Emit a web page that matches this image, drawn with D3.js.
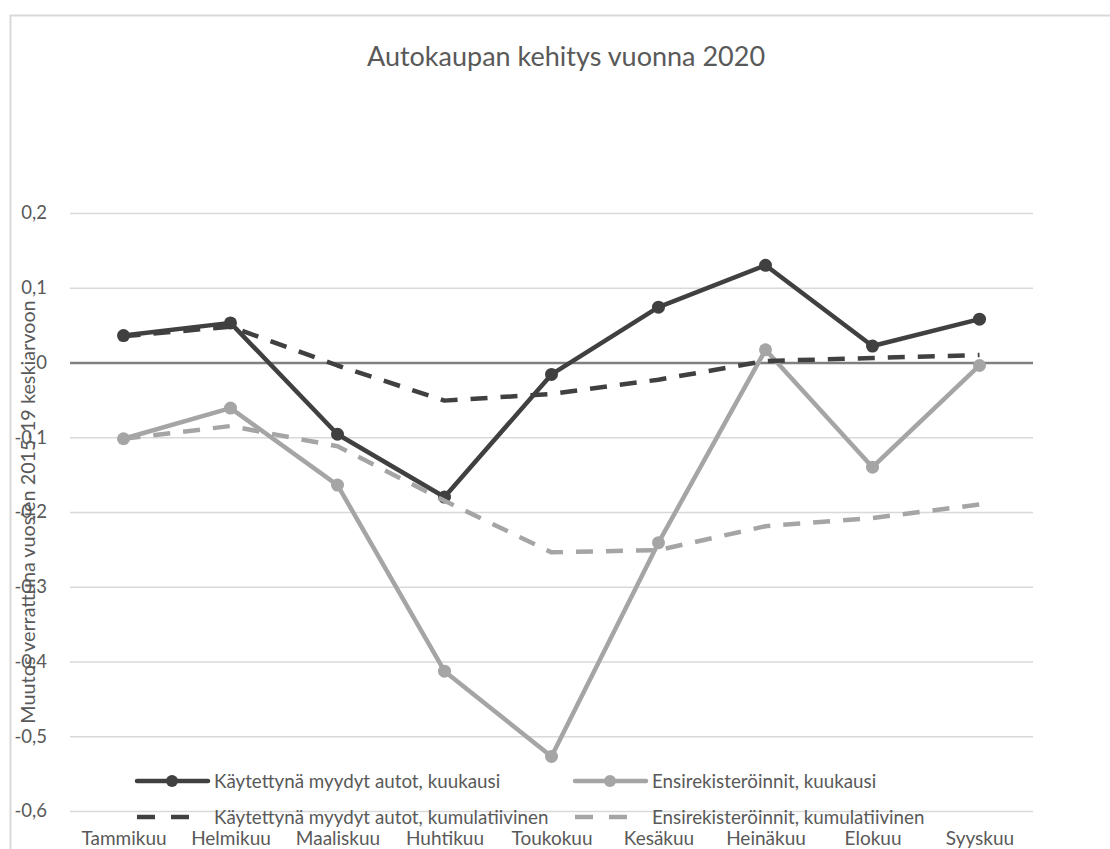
<!DOCTYPE html>
<html>
<head>
<meta charset="utf-8">
<script src="https://cdn.jsdelivr.net/npm/d3@7"></script>
<style>
	body { margin: 0; background: #fff; }
	svg { display: block; }
	text { font-family: Lato, "Open Sans", sans-serif; fill: #595959; }
</style>
</head>
<body>
<div id="vis-proper"></div>
<script>
// months on the x axis
const months = ["Tammikuu", "Helmikuu", "Maaliskuu", "Huhtikuu", "Toukokuu", "Kesäkuu", "Heinäkuu", "Elokuu", "Syyskuu"];

// change vs 2015-19 average
const usedMonthly = [0.036, 0.053, -0.096, -0.180, -0.016, 0.074, 0.130, 0.022, 0.058];
const firstRegMonthly = [-0.102, -0.061, -0.164, -0.413, -0.527, -0.241, 0.017, -0.140, -0.004];
const usedCumulative = [0.035, 0.048, -0.004, -0.051, -0.042, -0.023, 0.002, 0.006, 0.010];
const firstRegCumulative = [-0.102, -0.085, -0.112, -0.185, -0.254, -0.251, -0.219, -0.208, -0.190];

const yTicks = [0.2, 0.1, 0, -0.1, -0.2, -0.3, -0.4, -0.5, -0.6];

const seriesNames = [
	"Käytettynä myydyt autot, kuukausi",
	"Ensirekisteröinnit, kuukausi",
	"Käytettynä myydyt autot, kumulatiivinen",
	"Ensirekisteröinnit, kumulatiivinen"
];

const title = "Autokaupan kehitys vuonna 2020";
const yLabel = "Muutos verrattuna vuosien 2015-19 keskiarvoon";

const DARK = "#404040";
const LIGHT = "#a5a5a5";

const series = [
	{ name: seriesNames[0], values: usedMonthly, color: DARK, dash: null, marker: true },
	{ name: seriesNames[1], values: firstRegMonthly, color: LIGHT, dash: null, marker: true },
	{ name: seriesNames[2], values: usedCumulative, color: DARK, dash: "17,13", marker: false },
	{ name: seriesNames[3], values: firstRegCumulative, color: LIGHT, dash: "17,13", marker: false }
];

const W = 1110, H = 849;
const plot = { left: 70, right: 1033, top: 213, bottom: 811 };

const svg = d3.select("#vis-proper").append("svg")
	.attr("width", W)
	.attr("height", H);

// chart frame (runs off the right/bottom edge like the screenshot)
svg.append("rect")
	.attr("x", 10.5).attr("y", 15.5)
	.attr("width", W + 20).attr("height", H + 20)
	.attr("fill", "#fff")
	.attr("stroke", "#d9d9d9")
	.attr("stroke-width", 2);

const x = d3.scalePoint().domain(months).range([plot.left, plot.right]).padding(0.5);
const y = d3.scaleLinear().domain([-0.6, 0.2]).range([plot.bottom, plot.top]);

const fiLocale = d3.formatLocale({ decimal: ",", thousands: " ", grouping: [3], currency: ["", " €"], minus: "-" });
const fmt = fiLocale.format(".1~f");

// gridlines
const grid = svg.append("g")
	.attr("transform", `translate(${plot.left},0)`)
	.call(d3.axisLeft(y).tickValues(yTicks).tickSize(-(plot.right - plot.left)).tickFormat(""));
grid.select(".domain").remove();
grid.selectAll("line")
	.attr("stroke", d => d === 0 ? "#808080" : "#d9d9d9")
	.attr("stroke-width", d => d === 0 ? 2.6 : 1.6);

// y tick labels
const yAxis = svg.append("g")
	.attr("transform", `translate(${plot.left - 20},0)`)
	.call(d3.axisLeft(y).tickValues(yTicks).tickSize(0).tickFormat(fmt));
yAxis.select(".domain").remove();
yAxis.selectAll("text")
	.attr("fill", "#595959")
	.style("font-family", "Lato, sans-serif")
	.style("font-size", "18.5px");

// x labels
const xAxis = svg.append("g")
	.attr("transform", `translate(0,${plot.bottom})`)
	.call(d3.axisBottom(x).tickSize(0).tickPadding(0));
xAxis.select(".domain").remove();
xAxis.selectAll("text")
	.attr("y", 34)
	.attr("dy", null)
	.attr("fill", "#595959")
	.style("font-family", "Lato, sans-serif")
	.style("font-size", "19px");

// y axis title
svg.append("text")
	.attr("transform", `translate(35,${(plot.top + plot.bottom) / 2}) rotate(-90)`)
	.attr("text-anchor", "middle")
	.style("font-size", "19.8px")
	.text(yLabel);

// title
svg.append("text")
	.attr("x", 566).attr("y", 66)
	.attr("text-anchor", "middle")
	.style("font-size", "27px")
	.text(title);

const line = d3.line()
	.x((d, i) => x(months[i]))
	.y(d => y(d));

const seriesG = svg.append("g");
series.forEach(s => {
	seriesG.append("path")
		.datum(s.values)
		.attr("d", line)
		.attr("fill", "none")
		.attr("stroke", s.color)
		.attr("stroke-width", 4.5)
		.attr("stroke-linejoin", "round")
		.attr("stroke-dasharray", s.dash);
	if (s.marker) {
		seriesG.selectAll(null)
			.data(s.values)
			.enter()
			.append("circle")
			.attr("cx", (d, i) => x(months[i]))
			.attr("cy", d => y(d))
			.attr("r", 6.5)
			.attr("fill", s.color);
	}
});

// legend
const legendPos = [
	{ x: 137, y: 781 }, { x: 575, y: 781 },
	{ x: 137, y: 817 }, { x: 575, y: 817 }
];
const legend = svg.append("g");
series.forEach((s, i) => {
	const p = legendPos[i];
	const g = legend.append("g").attr("transform", `translate(${p.x},${p.y})`);
	if (s.dash) {
		g.append("line").attr("x1", 0).attr("x2", 18).attr("stroke", s.color).attr("stroke-width", 4.5);
		g.append("line").attr("x1", 34).attr("x2", 52).attr("stroke", s.color).attr("stroke-width", 4.5);
	} else {
		g.append("line").attr("x1", 0).attr("x2", 71).attr("stroke", s.color).attr("stroke-width", 4.5).attr("stroke-linecap", "round");
		g.append("circle").attr("cx", 35).attr("r", 6).attr("fill", s.color);
	}
	g.append("text")
		.attr("x", 77)
		.attr("dy", "0.35em")
		.style("font-size", "18.8px")
		.text(s.name);
});
</script>
</body>
</html>
